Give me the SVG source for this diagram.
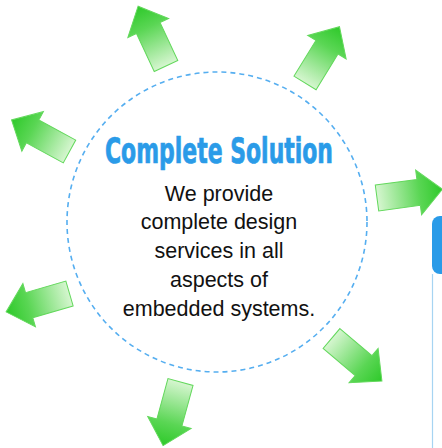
<svg xmlns="http://www.w3.org/2000/svg" width="442" height="448" viewBox="0 0 442 448">
<defs>
<linearGradient id="g" x1="0" y1="0" x2="1" y2="0">
<stop offset="0" stop-color="#d6f6d0"/>
<stop offset="0.65" stop-color="#5ad654"/>
<stop offset="1" stop-color="#2ec92a"/>
</linearGradient>
<path id="arr" d="M0,-13 L42,-13 L42,-22.5 L66,0 L42,22.5 L42,13 L0,13 Z"/>
</defs>
<style>
.a{fill:url(#g);stroke:#63d85c;stroke-width:1}
.body{font-family:"Liberation Sans",Arial,sans-serif;font-size:21.5px;fill:#111;text-anchor:middle}
.title{font-family:"DejaVu Sans Condensed","DejaVu Sans",sans-serif;font-stretch:condensed;font-weight:bold;font-size:24.5px;fill:#2a9be8;stroke:#2a9be8;stroke-width:0.5}
</style>
<rect width="442" height="448" fill="#fff"/>
<g id="circle">
<circle cx="217" cy="222" r="150" fill="none" stroke="#55aef0" stroke-width="1.6" stroke-dasharray="5,4"/>
</g>
<g id="arrow-top"><use href="#arr" class="a" transform="translate(166,66) rotate(-115)"/></g>
<g id="arrow-topright"><use href="#arr" class="a" transform="translate(305,83) rotate(-58.5)"/></g>
<g id="arrow-left-up"><use href="#arr" class="a" transform="translate(69.5,151.5) rotate(-151.4)"/></g>
<g id="arrow-right"><use href="#arr" class="a" transform="translate(377,198) rotate(-7.6)"/></g>
<g id="arrow-left-down"><use href="#arr" class="a" transform="translate(69.5,293.5) rotate(163.8)"/></g>
<g id="arrow-bottomright"><use href="#arr" class="a" transform="translate(331.5,338.5) rotate(40.2)"/></g>
<g id="arrow-bottom"><use href="#arr" class="a" transform="translate(180.5,382) rotate(105.3)"/></g>
<g id="title">
<text class="title" transform="scale(1,1.45)" x="105" y="112.4" textLength="228" lengthAdjust="spacingAndGlyphs">Complete Solution</text>
</g>
<g id="body">
<text class="body" x="219" y="201">We provide</text>
<text class="body" x="219" y="229">complete design</text>
<text class="body" x="219" y="258">services in all</text>
<text class="body" x="219" y="287">aspects of</text>
<text class="body" x="219" y="316">embedded systems.</text>
</g>
<g id="panel">
<rect x="432" y="216" width="30" height="58" rx="8" fill="#2a9be8"/>
<line x1="432.5" y1="274" x2="432.5" y2="448" stroke="#a6d4f2" stroke-width="1.2"/>
</g>
</svg>
